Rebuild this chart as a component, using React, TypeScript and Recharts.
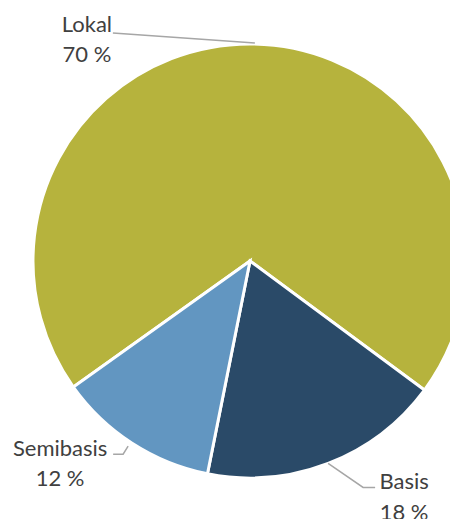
import React from "react";
import { PieChart, Pie, Cell } from "recharts";

const categories = ["Lokal", "Basis", "Semibasis"];
const shares = [70, 18, 12];
const percentLabels = ["70 %", "18 %", "12 %"];

const colors: Record<string, string> = {
  Lokal: "#B6B33D",
  Basis: "#2A4A68",
  Semibasis: "#6296C1",
};

// label layout relative to the slice's outer edge point (leader start, elbow, end, text center, line gap)
const labelLayout: Record<string, { pts: [number, number][]; tx: number; ty: number; gap: number }> = {
  Lokal: { pts: [[3, -1], [-139, -11]], tx: -165, ty: -20.5, gap: 29.5 },
  Basis: { pts: [[0, 0], [35, 24], [47, 24]], tx: 76, ty: 17, gap: 31 },
  Semibasis: { pts: [[-4, 3], [-9, 11], [-19, 11]], tx: -72, ty: 4, gap: 30 },
};

const data = categories.map((name, i) => ({ name, value: shares[i], pct: percentLabels[i] }));

const RADIAN = Math.PI / 180;

const renderLabel = (props: any) => {
  const { cx, cy, midAngle, outerRadius, index } = props;
  const d = data[index];
  const ex = cx + outerRadius * Math.cos(-midAngle * RADIAN);
  const ey = cy + outerRadius * Math.sin(-midAngle * RADIAN);
  const L = labelLayout[d.name];
  const points = L.pts.map(([dx, dy]) => `${ex + dx},${ey + dy}`).join(" ");
  return (
    <g key={`lbl-${index}`}>
      <polyline points={points} fill="none" stroke="#A6A6A6" strokeWidth={1.5} />
      <text
        x={ex + L.tx}
        y={ey + L.ty}
        textAnchor="middle"
        dominantBaseline="central"
        fill="#404040"
        fontSize={22}
        fontFamily="Lato, 'Open Sans', sans-serif"
      >
        {d.name}
      </text>
      <text
        x={ex + L.tx}
        y={ey + L.ty + L.gap}
        textAnchor="middle"
        dominantBaseline="central"
        fill="#404040"
        fontSize={22}
        fontFamily="Lato, 'Open Sans', sans-serif"
      >
        {d.pct}
      </text>
    </g>
  );
};

export default function App() {
  return (
    <PieChart width={450} height={511} margin={{ top: 0, right: 0, bottom: 0, left: 0 }}>
      <Pie
        data={data}
        dataKey="value"
        nameKey="name"
        cx={242}
        cy={253}
        outerRadius={217}
        startAngle={215.5}
        endAngle={-144.5}
        stroke="#FFFFFF"
        strokeWidth={3}
        label={renderLabel}
        labelLine={false}
        isAnimationActive={false}
      >
        {data.map((d) => (
          <Cell key={d.name} fill={colors[d.name]} />
        ))}
      </Pie>
    </PieChart>
  );
}
